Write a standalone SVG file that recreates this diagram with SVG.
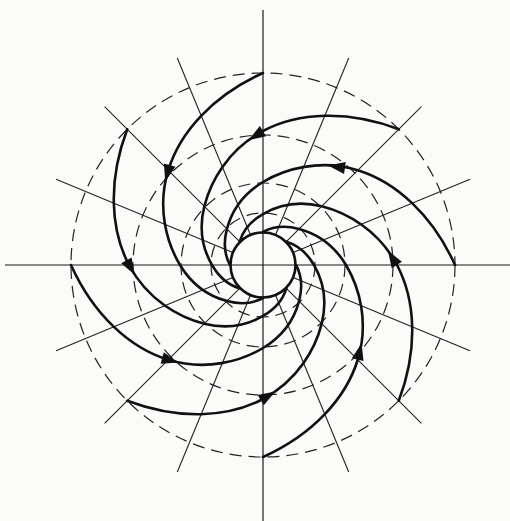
<svg xmlns="http://www.w3.org/2000/svg" xmlns:xlink="http://www.w3.org/1999/xlink" width="510" height="521" viewBox="0 0 510 521">
<style>
.axis{stroke:#1a1a1a;stroke-width:1.2;fill:none}
.ray{stroke:#222;stroke-width:1.1;fill:none}
.dash{stroke:#222;stroke-width:1.2;fill:none;stroke-dasharray:12 7}
.arm{stroke:#111;stroke-width:2.6;fill:none;stroke-linecap:round}
.head{fill:#111;stroke:none}
</style>
<defs>
<path id="armpath" d="M 455 265 C 432.38 214.73, 395.70 181.91, 357.75 170.25 C 319.80 158.59, 284.73 168.96, 263 182 C 241.27 195.04, 230.91 214.02, 226.94 228.94 C 222.97 243.86, 225.25 256.36, 230 265"/>
<path id="ah" d="M 9 0 L -8 -6 L -8 6 Z"/>
</defs>
<rect width="510" height="521" fill="#fbfcf9"/>
<g id="dashed-circles">
<circle class="dash" cx="263" cy="265" r="192"/>
<circle class="dash" cx="263" cy="265" r="130"/>
<circle class="dash" cx="263" cy="265" r="82"/>
<circle class="dash" cx="263" cy="265" r="52"/>
</g>
<g id="axes">
<line class="axis" x1="5" y1="265" x2="510" y2="265"/>
<line class="axis" x1="263" y1="10" x2="263" y2="521"/>
</g>
<g id="radial-lines">
<line class="ray" x1="292.56" y1="252.75" x2="469.95" y2="179.28"/>
<line class="ray" x1="285.63" y1="242.37" x2="421.39" y2="106.61"/>
<line class="ray" x1="275.25" y1="235.44" x2="348.72" y2="58.05"/>
<line class="ray" x1="250.75" y1="235.44" x2="177.28" y2="58.05"/>
<line class="ray" x1="240.37" y1="242.37" x2="104.61" y2="106.61"/>
<line class="ray" x1="233.44" y1="252.75" x2="56.05" y2="179.28"/>
<line class="ray" x1="233.44" y1="277.25" x2="56.05" y2="350.72"/>
<line class="ray" x1="240.37" y1="287.63" x2="104.61" y2="423.39"/>
<line class="ray" x1="250.75" y1="294.56" x2="177.28" y2="471.95"/>
<line class="ray" x1="275.25" y1="294.56" x2="348.72" y2="471.95"/>
<line class="ray" x1="285.63" y1="287.63" x2="421.39" y2="423.39"/>
<line class="ray" x1="292.56" y1="277.25" x2="469.95" y2="350.72"/>
</g>
<g id="spiral-arms">
<circle id="inner-cycle" class="arm" cx="263" cy="265" r="32.5"/>
<use id="arm-0" class="arm" xlink:href="#armpath"/>
<use id="arm-45" class="arm" xlink:href="#armpath" transform="rotate(-45 263 265)"/>
<use id="arm-90" class="arm" xlink:href="#armpath" transform="rotate(-90 263 265)"/>
<use id="arm-135" class="arm" xlink:href="#armpath" transform="rotate(-135 263 265)"/>
<use id="arm-180" class="arm" xlink:href="#armpath" transform="rotate(-180 263 265)"/>
<use id="arm-225" class="arm" xlink:href="#armpath" transform="rotate(-225 263 265)"/>
<use id="arm-270" class="arm" xlink:href="#armpath" transform="rotate(-270 263 265)"/>
<use id="arm-315" class="arm" xlink:href="#armpath" transform="rotate(-315 263 265)"/>
</g>
<g id="arrowheads">
<use class="head" xlink:href="#ah" transform="translate(337.0 166.8) rotate(-171.8)"/>
<use class="head" xlink:href="#ah" transform="translate(256.2 135.4) rotate(148.2)"/>
<use class="head" xlink:href="#ah" transform="translate(167.6 172.9) rotate(105.2)"/>
<use class="head" xlink:href="#ah" transform="translate(130.4 267.3) rotate(60.2)"/>
<use class="head" xlink:href="#ah" transform="translate(169.9 360.1) rotate(15.6)"/>
<use class="head" xlink:href="#ah" transform="translate(267.6 396.1) rotate(-30.8)"/>
<use class="head" xlink:href="#ah" transform="translate(359.5 351.9) rotate(-76.8)"/>
<use class="head" xlink:href="#ah" transform="translate(392.6 258.2) rotate(-121.8)"/>
</g>
</svg>
